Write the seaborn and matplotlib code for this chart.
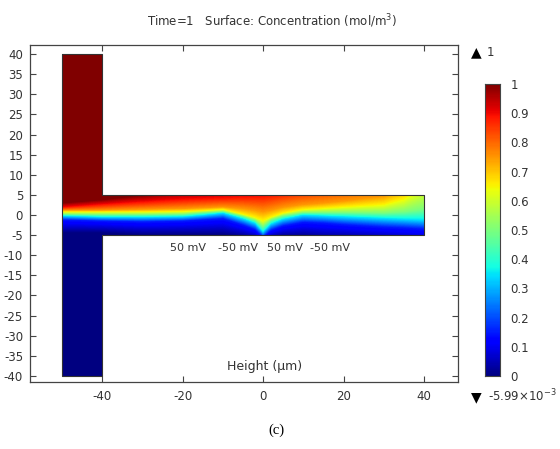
import matplotlib
matplotlib.use('Agg')

import matplotlib.pyplot as plt
import numpy as np
import seaborn as sns

# concentration levels and the height (um) where each one sits, read per station along x
levels = [0.0, 0.15, 0.35, 0.5, 0.65, 0.75, 0.89, 1.0]
stations = [-50, -40, -30, -20, -15, -10, -5, -2, 0, 2, 5, 10, 15, 20, 30, 35, 40]
y_c000 = [-4.5, -4.5, -5.0, -5.0, -5.0, -5.0, -5.5, -6.0, -8.0, -6.0, -5.5, -5.5, -6.0, -6.0, -6.5, -7.0, -7.5]
y_c015 = [-1.2, -1.5, -1.7, -1.5, -1.2, -0.9, -2.5, -3.6, -5.5, -3.8, -2.7, -1.8, -2.0, -2.4, -3.0, -3.2, -3.5]
y_c035 = [-0.2, -0.5, -0.5, -0.4, 0.0, 0.5, -0.9, -2.0, -4.2, -2.2, -1.0, 0.0, -0.2, -0.4, -0.8, -1.0, -1.2]
y_c050 = [0.2, 0.1, 0.1, 0.2, 0.6, 0.9, -0.3, -1.3, -2.8, -1.2, -0.2, 0.6, 0.6, 0.6, 0.5, 0.8, 1.5]
y_c065 = [0.8, 0.8, 0.8, 0.9, 1.1, 1.4, 0.2, -0.6, -1.4, -0.5, 0.5, 1.4, 1.7, 2.0, 2.6, 4.0, 7.5]
y_c075 = [1.2, 1.2, 1.4, 1.6, 1.8, 2.0, 1.6, 1.2, 0.8, 1.2, 1.9, 2.6, 3.0, 3.5, 4.8, 7.0, 10.0]
y_c089 = [1.9, 2.6, 3.2, 3.8, 4.0, 4.2, 4.5, 4.6, 4.7, 5.0, 5.5, 6.5, 7.5, 8.5, 11.0, 12.0, 14.0]
y_c100 = [3.0, 3.8, 5.0, 6.5, 7.0, 8.0, 9.0, 10.0, 11.0, 12.0, 13.0, 14.0, 15.0, 16.0, 20.0, 21.0, 22.0]

x_ticks = [-40, -20, 0, 20, 40]
y_ticks = [-40, -35, -30, -25, -20, -15, -10, -5, 0, 5, 10, 15, 20, 25, 30, 35, 40]
cbar_ticks = [0, 0.1, 0.2, 0.3, 0.4, 0.5, 0.6, 0.7, 0.8, 0.9, 1]
cbar_labels = ['0', '0.1', '0.2', '0.3', '0.4', '0.5', '0.6', '0.7', '0.8', '0.9', '1']

electrode_labels = ['50 mV', '-50 mV', '50 mV', '-50 mV']
electrode_x = [-18.6, -6.2, 5.5, 16.6]

# T-shaped channel outline
channel_x = [-50, -40, -40, 40, 40, -40, -40, -50, -50]
channel_y = [40, 40, 5, 5, -5, -5, -40, -40, 40]

TEXT = '#333333'
EDGE = '#444444'
CELL = 0.25
X_LIM = (-57.95, 48.26)
Y_LIM = (-41.5, 42.24)


def build_field():
    xs = np.arange(-50, 40, CELL) + CELL / 2
    ys = np.arange(40, -40, -CELL) - CELL / 2
    table = np.array([y_c000, y_c015, y_c035, y_c050, y_c065, y_c075, y_c089, y_c100])
    field = np.zeros((len(ys), len(xs)))
    for j, x in enumerate(xs):
        heights = [np.interp(x, stations, row) for row in table]
        field[:, j] = np.interp(ys, heights, levels)
    in_arm = xs < -40
    in_channel = np.abs(ys) < 5
    mask = ~(in_arm[None, :] | in_channel[:, None])
    return field, mask


def plot_field(ax):
    field, mask = build_field()
    sns.heatmap(field, mask=mask, cmap='jet', vmin=0, vmax=1, cbar=False,
                xticklabels=False, yticklabels=False, ax=ax)

    to_col = lambda x: (np.asarray(x, dtype=float) + 50) / CELL
    to_row = lambda y: (40 - np.asarray(y, dtype=float)) / CELL

    ax.plot(to_col(channel_x), to_row(channel_y), color='#333333', lw=0.8)
    ax.set_xlim(to_col(X_LIM[0]), to_col(X_LIM[1]))
    ax.set_ylim(to_row(Y_LIM[0]), to_row(Y_LIM[1]))

    ax.set_xticks(to_col(x_ticks))
    ax.set_xticklabels([str(t) for t in x_ticks])
    ax.set_yticks(to_row(y_ticks))
    ax.set_yticklabels([str(t) for t in y_ticks])
    ax.tick_params(direction='in', length=4, width=0.8, color=EDGE, labelcolor=TEXT,
                   labelsize=8.5, top=True, right=True, bottom=True, left=True,
                   labelrotation=0)
    ax.tick_params(axis='x', pad=6)
    ax.tick_params(axis='y', pad=5)
    for spine in ax.spines.values():
        spine.set_visible(True)
        spine.set_color(EDGE)
        spine.set_linewidth(0.9)

    for label, x in zip(electrode_labels, electrode_x):
        ax.text(to_col(x), to_row(-8.2), label, ha='center', va='center', fontsize=8, color=TEXT)
    ax.text(to_col(0.3), to_row(-37.6), 'Height (\u03bcm)', ha='center', va='center',
            fontsize=9, color=TEXT)


def plot_colorbar(cax):
    gradient = np.linspace(1, 0, 256).reshape(-1, 1)
    sns.heatmap(gradient, cmap='jet', vmin=0, vmax=1, cbar=False,
                xticklabels=False, yticklabels=False, ax=cax)
    rows = [(1 - t) * 256 for t in cbar_ticks]
    cax.set_yticks(rows)
    cax.set_yticklabels(cbar_labels)
    cax.yaxis.tick_right()
    cax.tick_params(axis='y', direction='in', length=2, width=0.6, color='#222222',
                    labelcolor=TEXT, labelsize=8.5, left=True, right=True, pad=8,
                    labelrotation=0)
    for spine in cax.spines.values():
        spine.set_visible(True)
        spine.set_color(EDGE)
        spine.set_linewidth(0.8)
    for label in cax.get_yticklabels():
        label.set_ha('left')


def main():
    sns.set_style('white')
    plt.rcParams['font.family'] = ['DejaVu Sans']
    w, h = 560, 449
    fig = plt.figure(figsize=(w / 100, h / 100), dpi=100, facecolor='white')

    ax = fig.add_axes([30 / w, 1 - 382 / h, 427.5 / w, 337 / h])
    cax = fig.add_axes([485 / w, 1 - 376 / h, 14.5 / w, 292 / h])
    plot_field(ax)
    plot_colorbar(cax)

    fig.text(272 / w, 1 - 21 / h, 'Time=1   Surface: Concentration (mol/m$^3$)',
             ha='center', va='center', fontsize=8.5, color=TEXT)
    fig.text(476.5 / w, 1 - 52 / h, '\u25b2', ha='center', va='center', fontsize=10, color='black')
    fig.text(487 / w, 1 - 52 / h, '1', ha='left', va='center', fontsize=8.5, color=TEXT)
    fig.text(476 / w, 1 - 397 / h, '\u25bc', ha='center', va='center', fontsize=10, color='black')
    fig.text(488 / w, 1 - 396 / h, '-5.99\u00d710$^{-3}$', ha='left', va='center',
             fontsize=8.5, color=TEXT)
    fig.text(276 / w, 1 - 430 / h, '(c)', ha='center', va='center', fontsize=10.5,
             color='black', family='Liberation Serif')

    fig.savefig('out.png', dpi=100)
    plt.close(fig)


if __name__ == '__main__':
    main()
